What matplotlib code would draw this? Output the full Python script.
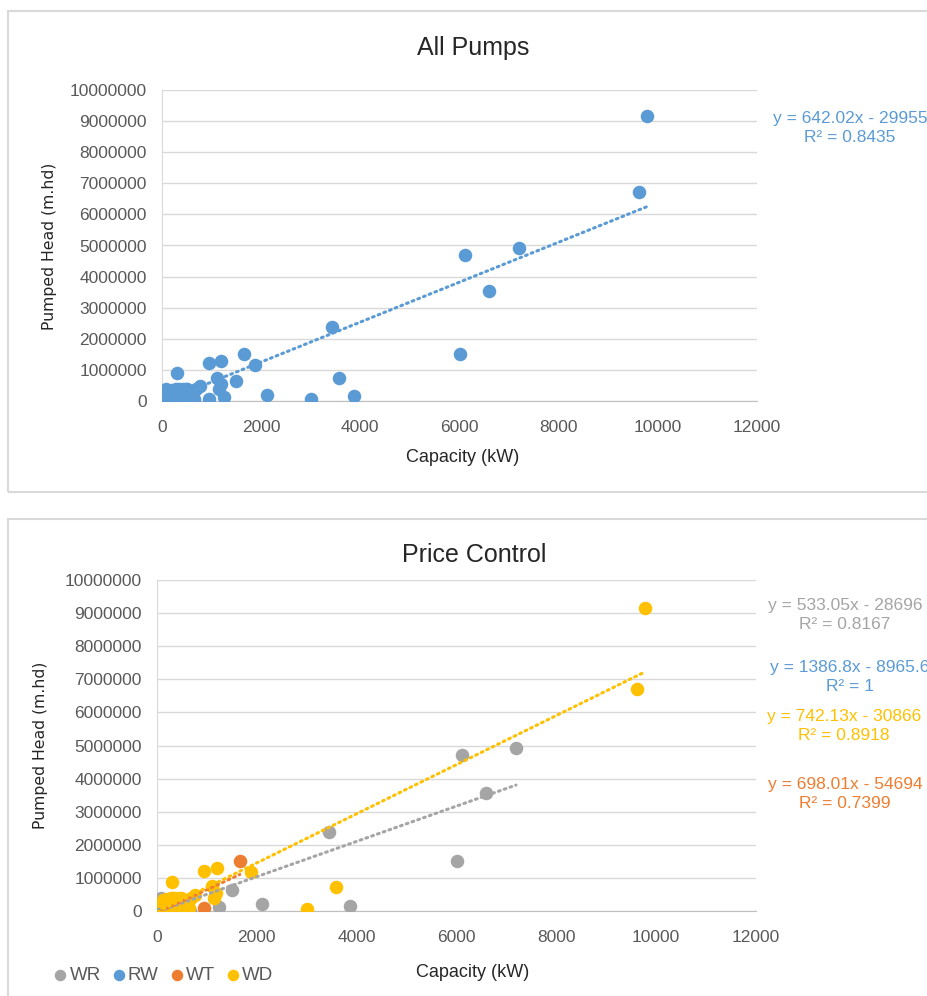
import numpy as np
import matplotlib
matplotlib.use("Agg")
import matplotlib.pyplot as plt
from matplotlib.patches import Rectangle

plt.rcParams['font.family'] = ['Liberation Sans', 'DejaVu Sans']

# series data (capacity kW, pumped head m.hd)
wr_x = [6102, 7192, 6588, 6019, 3436, 3863, 2109, 1493, 1244, 71, 652, 560, 30, 200, 400]
wr_y = [4710000, 4910000, 3550000, 1510000, 2380000, 160000, 200000, 630000, 130000,
        380000, 0, 20000, 150000, 0, 10000]

rw_x = [20, 40]
rw_y = [19000, 46500]

wt_x = [1659, 948, 90, 300, 500]
wt_y = [1510000, 80000, 50000, 150000, 250000]

wd_x = [9775, 9621, 3578, 2998, 1884, 1197, 948, 308, 1100, 1150, 1180, 770, 690,
        15, 25, 40, 50, 65, 80, 95, 110, 130, 150, 170, 190, 210, 230, 250, 270,
        290, 310, 330, 360, 390, 420, 450, 480, 510, 540, 580, 620,
        120, 200, 280, 350, 430, 500, 560, 640]
wd_y = [9160000, 6720000, 735000, 70000, 1170000, 1290000, 1210000, 890000, 750000,
        380000, 550000, 470000, 380000,
        20000, 60000, 10000, 90000, 40000, 120000, 30000, 150000, 80000, 180000,
        50000, 210000, 110000, 250000, 140000, 280000, 60000, 300000, 190000,
        320000, 230000, 350000, 150000, 380000, 270000, 330000, 200000, 300000,
        330000, 360000, 380000, 390000, 400000, 370000, 20000, 80000]

# trendline coefficients shown on the chart (slope, intercept, R2)
all_fit = (642.02, -29955, "0.8435")
wr_fit = (533.05, -28696, "0.8167")
rw_fit = (1386.8, -8965.6, "1")
wt_fit = (698.01, -54694, "0.7399")
wd_fit = (742.13, -30866, "0.8918")

x_ticks = [0, 2000, 4000, 6000, 8000, 10000, 12000]
y_ticks = [0, 1000000, 2000000, 3000000, 4000000, 5000000, 6000000, 7000000,
           8000000, 9000000, 10000000]

c_blue = '#5B9BD5'
c_orange = '#ED7D31'
c_gray = '#A5A5A5'
c_gold = '#FFC000'

W, H = 928, 996
fig = plt.figure(figsize=(W / 100, H / 100), dpi=100)


def fx(px):
    return px / W


def fy(py):
    return 1 - py / H


# panel borders
fig.patches.append(Rectangle((fx(8), fy(492)), 1, fy(11) - fy(492), transform=fig.transFigure,
                             fill=False, edgecolor='#d9d9d9', linewidth=1.5))
fig.patches.append(Rectangle((fx(8), fy(1010)), 1, fy(519) - fy(1010), transform=fig.transFigure,
                             fill=False, edgecolor='#d9d9d9', linewidth=1.5))


def style_axes(ax):
    ax.set_xlim(0, 12000)
    ax.set_ylim(0, 10000000)
    ax.set_xticks(x_ticks)
    ax.set_yticks(y_ticks)
    ax.set_xticklabels([str(t) for t in x_ticks])
    ax.set_yticklabels([str(t) for t in y_ticks])
    ax.tick_params(length=0, labelsize=12.5, colors='#595959')
    ax.tick_params(axis='x', pad=14)
    ax.tick_params(axis='y', pad=11)
    ax.grid(axis='y', color='#d9d9d9', linewidth=1)
    ax.set_axisbelow(True)
    for s in ['top', 'right']:
        ax.spines[s].set_visible(False)
    ax.spines['left'].set_color('#d9d9d9')
    ax.spines['bottom'].set_color('#bfbfbf')


def trend(ax, xs, fit, color):
    xr = np.array([min(xs), max(xs)], dtype=float)
    ax.plot(xr, fit[0] * xr + fit[1], color=color, linewidth=2.2,
            linestyle=(0, (0.6, 1.4)), dash_capstyle='round', zorder=5)


def fit_label(fit, color, cx, cy):
    sign = '-' if fit[1] < 0 else '+'
    b = abs(fit[1])
    bs = ('%g' % b) if b != int(b) else str(int(b))
    txt = 'y = %gx %s %s\nR² = %s' % (fit[0], sign, bs, fit[2])
    fig.text(fx(cx), fy(cy), txt, color=color, fontsize=12.5, ha='center', va='center',
             multialignment='center', linespacing=1.3)


ms = 95

# ---- top: All Pumps
ax1 = fig.add_axes([fx(162), fy(401), fx(757) - fx(162), fy(90) - fy(401)])
style_axes(ax1)
all_x = wr_x + rw_x + wt_x + wd_x
all_y = wr_y + rw_y + wt_y + wd_y
ax1.scatter(all_x, all_y, s=ms, color=c_blue, linewidths=0, zorder=3)
trend(ax1, all_x, all_fit, c_blue)
fit_label(all_fit, c_blue, 850, 128)

fig.text(fx(473), fy(48), 'All Pumps', fontsize=18, ha='center', va='center', color='#262626')
fig.text(fx(463), fy(458), 'Capacity (kW)', fontsize=13, ha='center', va='center', color='#262626')
fig.text(fx(50), fy(246), 'Pumped Head (m.hd)', fontsize=11.3, rotation=90, ha='center',
         va='center', family='DejaVu Sans', color='#262626')

# ---- bottom: Price Control
ax2 = fig.add_axes([fx(157), fy(911), fx(756) - fx(157), fy(580) - fy(911)])
style_axes(ax2)
h1 = ax2.scatter(wr_x, wr_y, s=ms, color=c_gray, linewidths=0, zorder=3, label='WR')
h2 = ax2.scatter(rw_x, rw_y, s=ms, color=c_blue, linewidths=0, zorder=3, label='RW')
h3 = ax2.scatter(wt_x, wt_y, s=ms, color=c_orange, linewidths=0, zorder=3, label='WT')
h4 = ax2.scatter(wd_x, wd_y, s=ms, color=c_gold, linewidths=0, zorder=3, label='WD')
trend(ax2, wr_x, wr_fit, c_gray)
trend(ax2, rw_x, rw_fit, c_blue)
trend(ax2, wt_x, wt_fit, c_orange)
trend(ax2, wd_x, wd_fit, c_gold)

fit_label(wr_fit, c_gray, 845, 615)
fit_label(rw_fit, c_blue, 850, 677)
fit_label(wd_fit, c_gold, 844, 726)
fit_label(wt_fit, c_orange, 845, 794)

fig.text(fx(474), fy(555), 'Price Control', fontsize=18, ha='center', va='center', color='#262626')
fig.text(fx(473), fy(972), 'Capacity (kW)', fontsize=13, ha='center', va='center', color='#262626')
fig.text(fx(41), fy(745), 'Pumped Head (m.hd)', fontsize=11.3, rotation=90, ha='center',
         va='center', family='DejaVu Sans', color='#262626')

fig.legend(handles=[h1, h2, h3, h4], loc='center left', bbox_to_anchor=(fx(32), fy(975)),
           ncol=4, frameon=False, fontsize=13.5, handletextpad=-0.1, columnspacing=0.35,
           markerscale=0.85, handlelength=1.2, labelcolor='#595959')

fig.savefig('out.png', dpi=100)
